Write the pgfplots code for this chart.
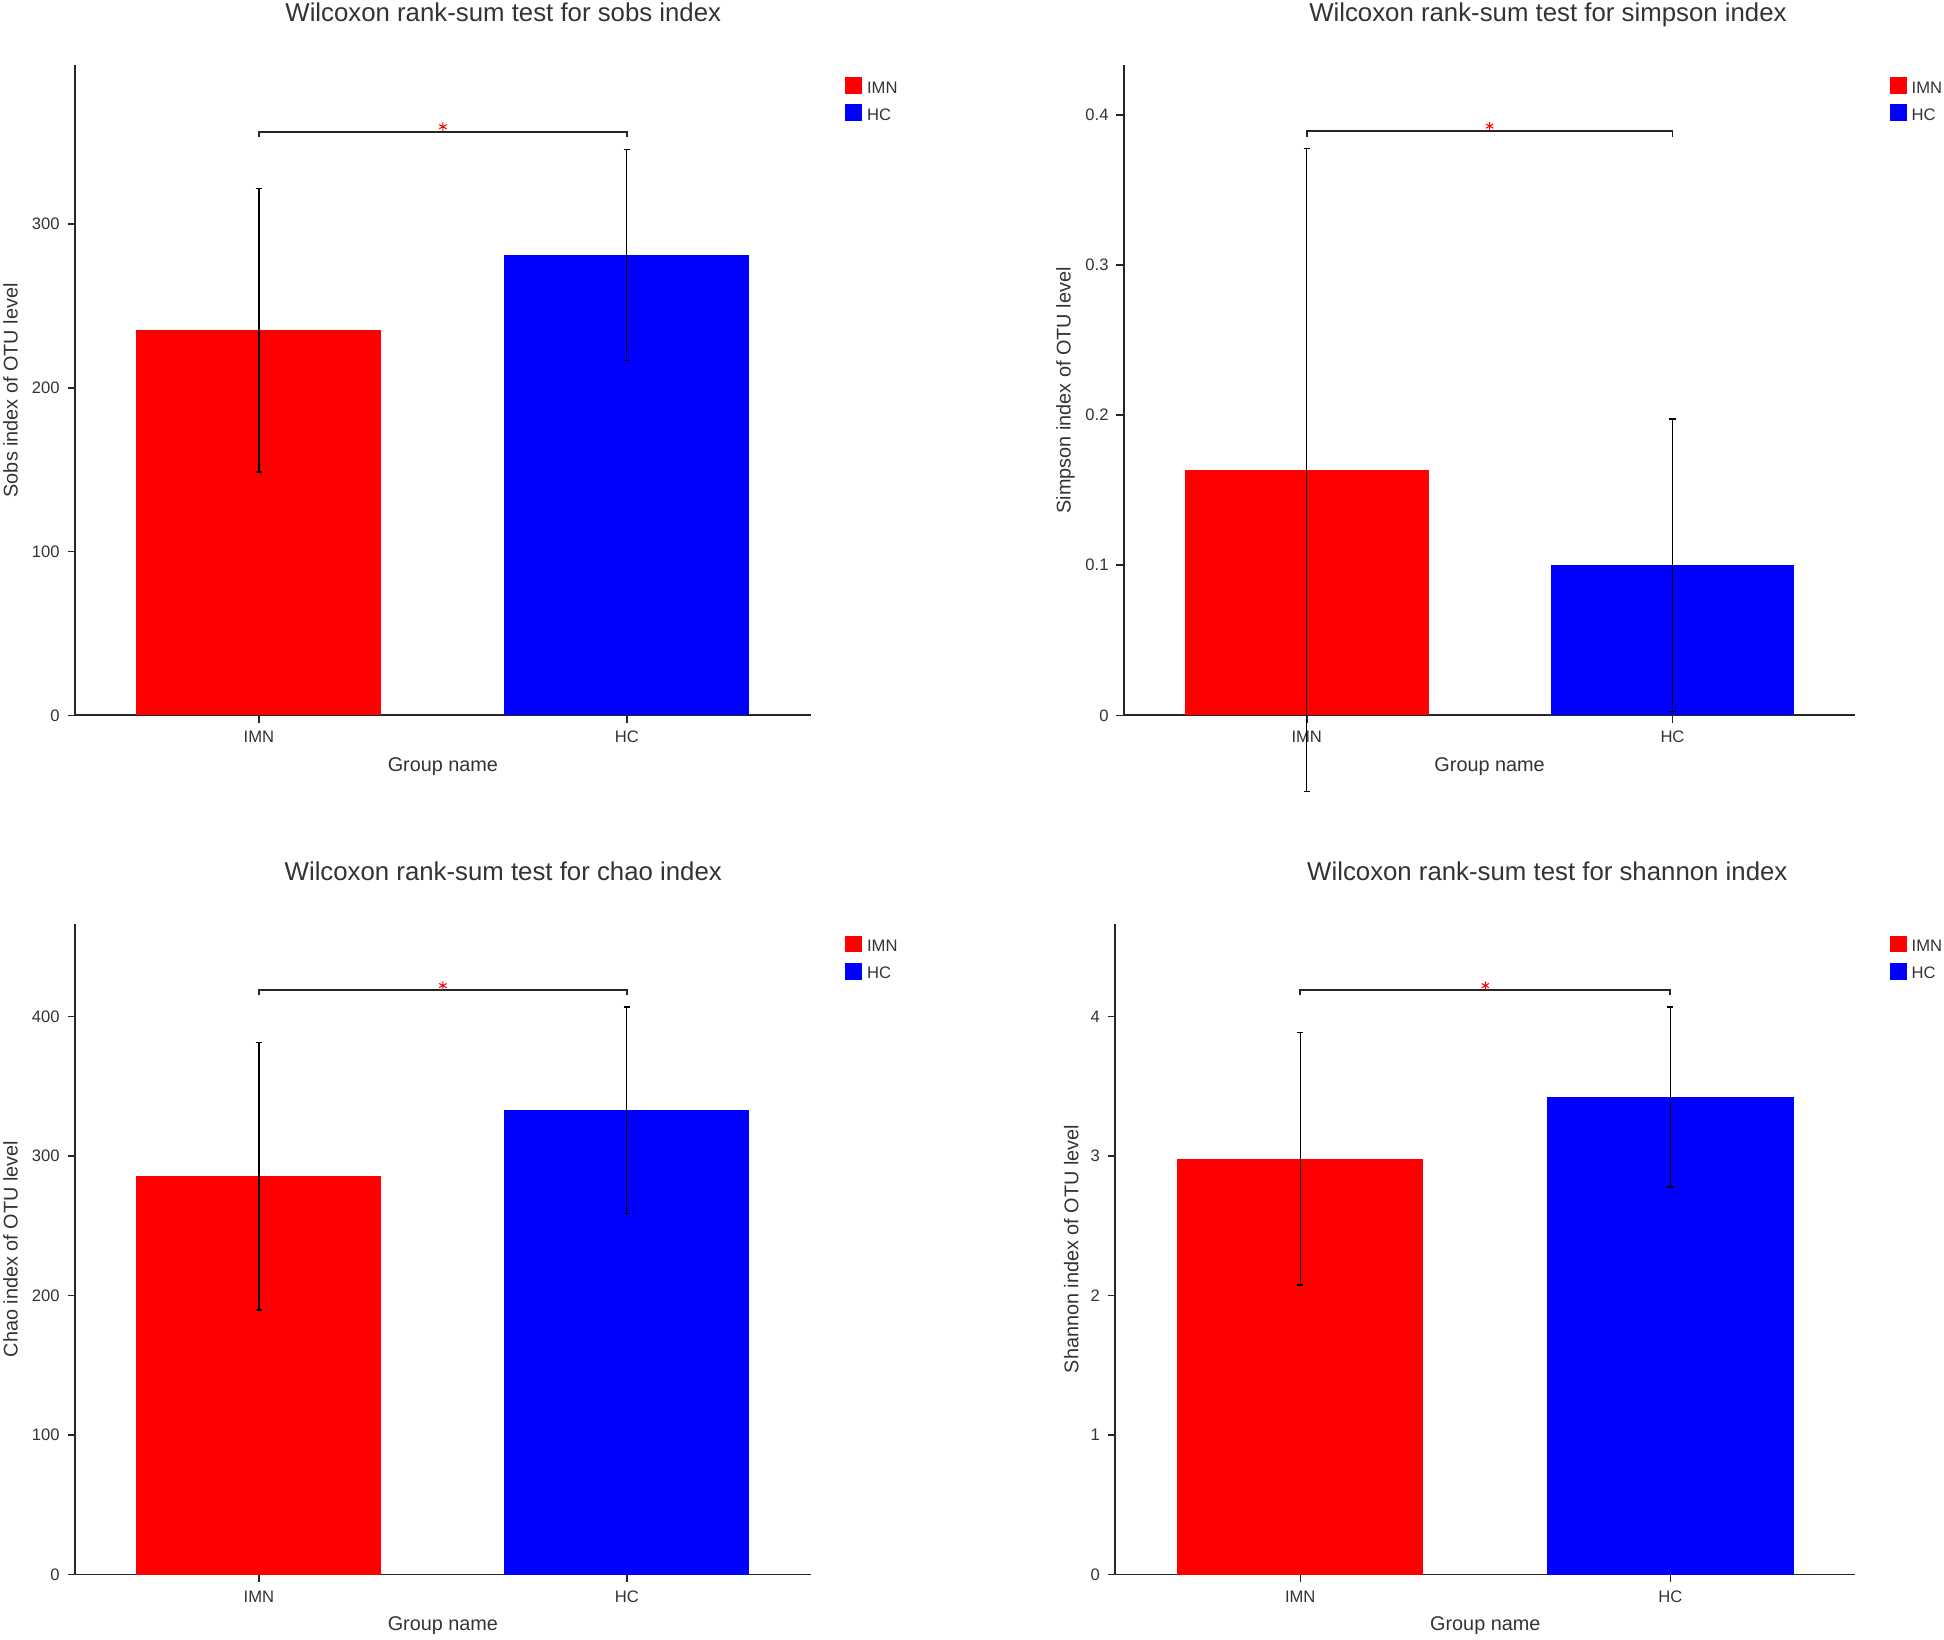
\documentclass[border=0pt]{standalone}
\usepackage{fontspec}
\setmainfont{Liberation Sans}
\usepackage{pgfplots}
\pgfplotsset{compat=1.18}
\definecolor{txt}{HTML}{333333}
\definecolor{imn}{HTML}{FF0000}
\definecolor{hc}{HTML}{0000FF}
\pgfplotsset{
  mybar/.style={ybar, bar width=0.666, bar shift=0pt, draw=none,
    legend image code/.code={\fill[##1] (0pt,-2.7pt) rectangle (6.75pt,4.05pt);},
    error bars/y dir=both, error bars/y explicit,
    error bars/error bar style={black, line width=0.5pt},
    error bars/error mark options={black, rotate=90, mark size=1.25pt, line width=0.5pt}},
  panel/.style={
    scale only axis, axis lines=left, axis line style={-, black!85, line width=0.7pt},
    clip=false, xmin=-0.5, xmax=1.5, ymin=0,
    xtick={0,1}, xticklabels={IMN,HC},
    tick align=outside, major tick length=3pt, tick style={black!85, line width=0.6pt},
    /pgf/number format/assume math mode=true,
    ticklabel style={font=\fontsize{6.7}{8}\selectfont, text=txt},
    yticklabel style={anchor=east, inner sep=0pt, xshift=-3pt},
    xticklabel style={anchor=base, inner sep=0pt, yshift=-8.1pt},
    label style={font=\fontsize{8}{9.6}\selectfont, text=txt},
    title style={font=\fontsize{10.4}{12}\selectfont, text=txt},
    every axis title shift=0pt,
    xlabel={Group name},
    xlabel style={at={(axis description cs:0.5,-0.0858)}, anchor=base},
    legend style={at={(axis description cs:1,1)}, anchor=north west, xshift=13.75pt, yshift=-4.65pt,
      draw=none, fill=none, inner sep=0pt, row sep=4.2pt, column sep=2pt,
      font=\fontsize{6.7}{8}\selectfont, text=txt, nodes={inner sep=0pt, text depth=0pt}},
    legend cell align=left,
  },
}
\begin{document}
\begin{tikzpicture}
\useasboundingbox (0,0) rectangle (784pt,661pt);
% ---- sobs
\begin{axis}[panel, at={(30.25pt,372.5pt)}, anchor=south west, width=296.75pt, height=262.15pt,
  ymax=397, ytick={0,100,200,300},
  ylabel={Sobs index of OTU level}, ylabel style={at={(axis description cs:-0.0876,0.5)}, anchor=center},
  title={Wilcoxon rank-sum test for sobs index}, title style={at={(axis description cs:0.582,1.068)}, anchor=base}]
\addplot[mybar, fill=imn] coordinates {(0,235.1) +- (0,86.5)};
\addlegendentry{IMN}
\addplot[mybar, fill=hc] coordinates {(1,281.3) +- (0,64.4)};
\addlegendentry{HC}
\addplot[black!85, line width=0.7pt, forget plot] coordinates {(0,353) (0,356.5) (1,356.5) (1,353)};
\addplot[only marks, mark=asterisk, mark size=1.75pt, red, forget plot] coordinates {(0.5,359.5)};
\end{axis}
% ---- simpson
\begin{axis}[panel, at={(453.25pt,372.5pt)}, anchor=south west, width=295pt, height=262.15pt,
  ymax=0.433, ytick={0,0.1,0.2,0.3,0.4},
  ylabel={Simpson index of OTU level}, ylabel style={at={(axis description cs:-0.0797,0.5)}, anchor=center},
  title={Wilcoxon rank-sum test for simpson index}, title style={at={(axis description cs:0.5797,1.068)}, anchor=base}]
\addplot[mybar, fill=imn] coordinates {(0,0.1634) +- (0,0.214)};
\addlegendentry{IMN}
\addplot[mybar, fill=hc] coordinates {(1,0.0999) +- (0,0.0975)};
\addlegendentry{HC}
\addplot[black!85, line width=0.7pt, forget plot] coordinates {(0,0.3854) (0,0.3892) (1,0.3892) (1,0.3854)};
\addplot[only marks, mark=asterisk, mark size=1.75pt, red, forget plot] coordinates {(0.5,0.3925)};
\end{axis}
% ---- chao
\begin{axis}[panel, at={(30.25pt,26pt)}, anchor=south west, width=296.75pt, height=262.5pt,
  ymax=466.4, ytick={0,100,200,300,400},
  ylabel={Chao index of OTU level}, ylabel style={at={(axis description cs:-0.0876,0.5)}, anchor=center},
  title={Wilcoxon rank-sum test for chao index}, title style={at={(axis description cs:0.582,1.067)}, anchor=base}]
\addplot[mybar, fill=imn] coordinates {(0,285.5) +- (0,95.9)};
\addlegendentry{IMN}
\addplot[mybar, fill=hc] coordinates {(1,332.7) +- (0,73.9)};
\addlegendentry{HC}
\addplot[black!85, line width=0.7pt, forget plot] coordinates {(0,415) (0,419.1) (1,419.1) (1,415)};
\addplot[only marks, mark=asterisk, mark size=1.75pt, red, forget plot] coordinates {(0.5,422)};
\end{axis}
% ---- shannon
\begin{axis}[panel, at={(449.75pt,26pt)}, anchor=south west, width=298.5pt, height=262.5pt,
  ymax=4.664, ytick={0,1,2,3,4},
  ylabel={Shannon index of OTU level}, ylabel style={at={(axis description cs:-0.0595,0.5)}, anchor=center},
  title={Wilcoxon rank-sum test for shannon index}, title style={at={(axis description cs:0.5838,1.067)}, anchor=base}]
\addplot[mybar, fill=imn] coordinates {(0,2.979) +- (0,0.905)};
\addlegendentry{IMN}
\addplot[mybar, fill=hc] coordinates {(1,3.422) +- (0,0.645)};
\addlegendentry{HC}
\addplot[black!85, line width=0.7pt, forget plot] coordinates {(0,4.15) (0,4.191) (1,4.191) (1,4.15)};
\addplot[only marks, mark=asterisk, mark size=1.75pt, red, forget plot] coordinates {(0.5,4.22)};
\end{axis}
\end{tikzpicture}
\end{document}
